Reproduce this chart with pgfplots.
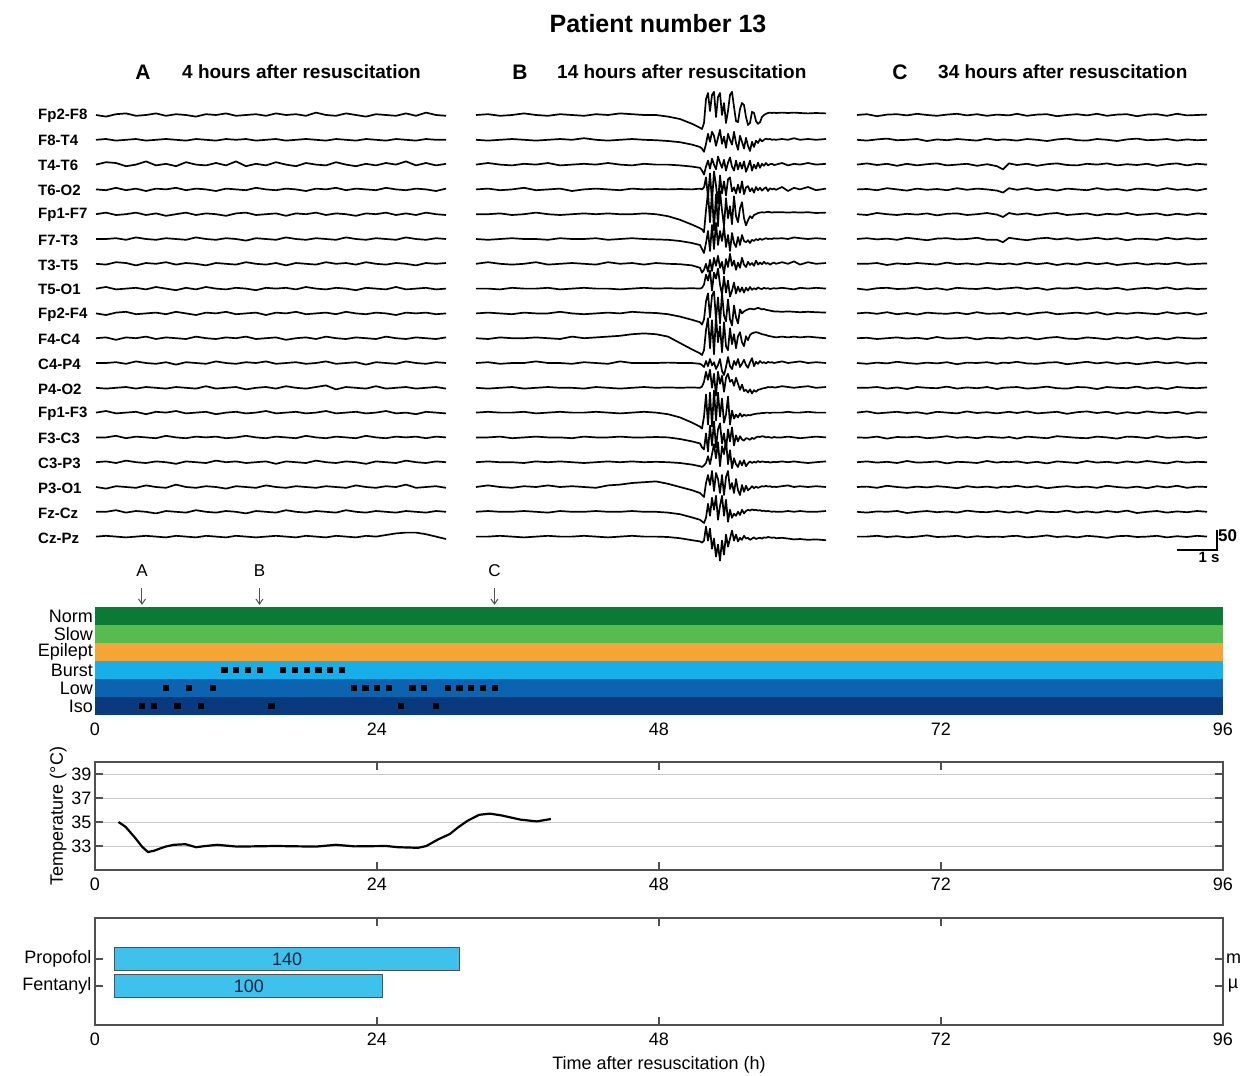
\documentclass[border=0pt]{standalone}
\usepackage{fontspec}
\setmainfont{Liberation Sans}
\usepackage{pgfplots}
\pgfplotsset{compat=1.18}
\usepackage{pgfplotstable}
\usetikzlibrary{arrows.meta}

\definecolor{normc}{RGB}{12,122,55}
\definecolor{slowc}{RGB}{88,187,80}
\definecolor{epic}{RGB}{246,164,52}
\definecolor{burstc}{RGB}{24,174,234}
\definecolor{lowc}{RGB}{12,100,176}
\definecolor{isoc}{RGB}{10,58,126}
\definecolor{drugc}{RGB}{62,194,236}
\definecolor{axisc}{RGB}{80,80,80}
\definecolor{gridc}{RGB}{200,200,200}
\definecolor{numc}{RGB}{25,35,70}

% EEG, microvolts, 18 bipolar channels
\pgfplotstableread{
t c1 c2 c3 c4 c5 c6 c7 c8 c9 c10 c11 c12 c13 c14 c15 c16 c17 c18
0.00 0 0 0 0 0 0 0 0 0 0 0 0 0 0 0 0 0 0
0.25 -4 2 6 -2 4 0 -2 4 -4 2 0 -2 4 0 2 -4 0 2
0.50 2 -2 4 4 -2 2 4 -2 2 -4 2 0 -2 4 -2 2 4 0
0.75 4 0 -4 -2 0 -2 2 0 4 2 -2 2 0 -2 4 0 -2 -2
1.00 -2 2 0 2 4 4 -4 2 -2 0 4 -2 2 2 0 -2 2 0
1.25 0 -2 8 -4 -2 0 2 -2 0 4 0 2 -4 0 -2 4 0 2
1.50 4 0 -2 2 2 -2 0 4 2 -2 -2 0 2 -2 2 0 -4 0
1.75 -2 2 2 0 -4 2 4 0 -2 2 2 -2 0 4 0 -2 2 -2
2.00 2 0 -4 4 0 0 -2 -4 4 0 -4 2 4 0 -4 6 0 2
2.25 0 -2 6 -2 4 -2 2 2 0 -2 2 0 -2 -2 2 0 -2 0
2.50 -4 2 0 2 -2 4 0 -2 -4 4 0 -2 0 2 0 -2 4 -2
2.75 2 0 -2 0 2 0 -4 4 2 0 -2 4 2 0 -2 2 0 2
3.00 0 -2 4 -4 0 -2 2 0 0 -2 4 -2 -4 2 4 0 -2 0
3.25 4 2 -2 2 -4 2 0 -2 4 2 0 0 0 -2 0 -4 2 -2
3.50 -2 0 8 0 2 0 -2 2 -2 0 -2 2 2 0 2 2 0 2
3.75 0 2 -4 -2 4 -4 4 0 0 4 2 -4 -2 4 -2 0 -4 0
4.00 2 -2 2 4 -2 2 0 -4 2 -2 0 0 0 0 0 -2 2 -2
4.25 -2 0 -2 0 0 0 -2 2 -4 0 4 2 4 -2 2 4 0 0
4.50 4 2 6 -2 2 -2 2 0 2 2 -2 -2 -2 2 -4 0 -2 2
4.75 0 -2 0 2 -4 4 -4 2 0 -4 0 4 0 0 2 -2 4 0
5.00 2 0 -4 0 2 0 2 -2 4 0 2 0 2 -2 0 2 0 -2
5.25 -2 2 4 -4 0 -2 0 4 -2 2 -2 -2 -2 4 -2 0 -2 2
5.50 6 0 0 2 4 2 -2 0 0 -2 0 2 0 0 4 -2 2 0
5.75 0 -2 -2 0 -2 0 4 -2 2 4 4 6 4 -2 0 2 0 -2
6.00 -2 2 6 4 2 -2 0 2 -2 0 -2 -4 -2 2 -2 0 -2 2
6.25 4 0 0 -2 0 4 2 0 4 -2 0 2 0 0 2 -2 4 0
6.50 0 -2 -4 2 -4 0 -2 -4 0 2 2 0 2 -2 0 4 0 -2
6.75 -4 2 2 0 2 -2 4 2 -2 0 -4 -2 -2 4 -4 0 -2 2
7.00 2 0 -2 -2 0 2 0 0 2 -2 2 4 0 0 2 -2 2 0
7.25 0 -2 4 4 4 0 -2 -2 0 4 0 -2 4 -2 0 2 0 4
7.50 -2 2 0 0 -2 -2 2 4 -4 0 -2 0 -2 2 -2 0 -2 8
7.75 4 0 8 -2 2 4 0 -2 2 -2 4 2 0 0 4 6 2 10
8.00 -2 -2 -2 2 -2 0 -4 0 0 2 0 -2 -4 2 0 -2 0 10
8.25 6 2 4 0 4 -2 2 2 2 0 -2 0 2 -2 -2 0 -2 6
8.50 0 0 -2 -4 0 2 0 -2 -2 -2 2 2 0 2 2 2 2 0
8.75 -2 0 2 2 -2 0 2 0 0 2 0 -2 -2 0 0 -2 0 -6
}\eegA

\pgfplotstableread{
t c1 c2 c3 c4 c5 c6 c7 c8 c9 c10 c11 c12 c13 c14 c15 c16 c17 c18
0.0 0 0 0 0 0 0 0 0 0 0 0 0 0 0 0 0 0 0
0.3 2 -2 4 2 0 -2 4 0 2 -2 2 -2 2 0 2 4 2 0
0.6 -2 0 0 -2 2 0 0 -2 0 2 -2 0 0 2 0 0 0 2
0.9 0 2 -2 0 -2 2 -2 2 -2 0 0 2 0 -2 0 -2 0 0
1.2 4 0 2 4 0 0 0 0 2 0 0 -2 2 0 -2 2 2 -2
1.5 0 -2 0 -2 4 0 4 0 0 2 4 0 -2 2 2 0 0 0
1.8 -2 0 4 0 0 -2 -2 2 0 0 0 2 0 0 0 4 -2 2
2.1 2 2 -2 2 -2 2 0 -2 4 -2 0 0 2 0 2 0 2 0
2.4 0 0 0 -4 0 0 2 0 0 4 -2 0 0 -2 0 2 0 0
2.7 -2 4 2 0 2 0 0 2 -2 0 2 -2 0 2 -2 0 0 2
3.0 2 0 0 2 0 2 -2 0 0 2 0 2 2 0 0 -2 2 0
3.3 0 -2 4 0 2 -2 4 0 2 4 -2 0 0 0 2 4 0 -2
3.6 4 0 0 -2 0 0 0 -2 0 6 4 -2 -2 2 0 6 0 0
3.9 2 2 -2 2 0 2 2 0 4 10 0 0 0 0 2 10 2 2
4.2 0 0 2 0 2 0 -2 2 2 12 0 2 2 0 0 12 0 0
4.5 0 -1 0 1 0 -1 2 0 1 10 0 0 0 1 1 14 0 0
4.8 -4 -3 0 0 -5 -2 0 1 -2 4 1 1 -4 0 0 8 -2 -1
5.1 -10 -6 -2 1 -14 -5 -1 0 -8 -12 0 0 -12 -4 -2 0 -6 -4
5.4 -22 -12 -5 0 -26 -10 -4 1 -16 -28 0 1 -25 -10 -6 -8 -14 -9
5.60 -32 -18 -8 2 -35 -15 -10 0 -22 -38 -2 0 -35 -15 -10 -15 -20 -12
5.65 -35 -22 -15 0 -38 -25 -22 2 -28 -42 -5 3 -40 -25 -12 -20 -24 -15
5.70 -20 -30 -25 5 -45 -35 -15 10 -15 -30 -10 15 -10 -30 -8 -25 -28 -10
5.75 40 -10 -5 30 10 -10 0 35 30 20 5 40 45 10 -2 10 -15 25
5.80 55 15 10 -20 55 20 -20 20 50 50 -8 20 -30 -35 15 30 20 -10
5.85 10 -5 -10 40 -20 -30 10 45 -10 -25 10 45 50 30 -5 5 -10 20
5.90 50 20 15 -30 55 35 -18 -5 45 45 -6 0 -35 -20 20 40 35 -30
5.95 58 10 0 45 -40 -25 15 40 55 -40 2 35 55 40 45 -10 5 -5
6.00 -5 -15 -12 10 50 40 -5 25 -15 55 -15 -20 -20 -25 10 35 40 -50
6.05 45 5 20 -35 -30 -15 20 50 40 -10 -5 40 50 20 50 20 -20 -20
6.10 55 25 5 35 58 20 -10 10 -25 30 10 10 -10 35 -10 -15 15 -60
6.15 0 -10 -8 -10 10 -5 5 -15 50 -35 -20 30 35 -15 40 30 40 -10
6.20 30 8 12 20 -30 30 -25 30 -5 40 -30 -10 -25 10 20 -20 -10 -45
6.25 -20 -20 -15 -15 40 -20 12 -10 -20 -20 -10 25 -5 -30 55 25 30 5
6.30 10 15 5 25 -10 10 -8 20 35 -30 15 35 40 20 -5 40 -25 -25
6.35 50 0 18 30 20 -30 25 -20 -15 25 -8 15 -30 -10 30 -5 5 -5
6.40 58 -12 -5 -5 -25 15 -5 -5 -30 -15 -15 20 5 25 -15 10 -15 15
6.45 20 20 -15 5 45 -10 8 15 20 10 5 5 -15 -20 10 -15 -5 -10
6.50 -15 -8 10 -10 -5 -20 -15 -12 -10 -25 -5 25 -5 5 -5 20 -10 5
6.55 -18 -25 -12 12 -20 5 3 5 -25 5 10 10 -12 -10 -12 -8 0 -12
6.60 15 10 5 -8 15 -15 -10 -8 10 15 -10 -5 -2 3 3 -20 -8 -3
6.65 30 -5 -10 20 30 10 15 3 0 -10 -2 8 -10 -5 -8 5 5 -8
6.70 25 -22 8 -12 -10 -5 -2 -10 5 -20 8 -8 -5 -8 5 -12 -4 2
6.75 -5 5 -18 5 -28 -8 -8 2 8 5 -5 -5 -8 -2 -10 3 2 -5
6.80 -25 -15 -5 8 -15 -3 5 -5 10 -5 -12 -12 -6 -3 -3 -8 5 -3
6.85 -20 -28 10 -5 -5 -10 -3 4 12 8 2 -4 -7 -6 2 -4 3 -8
6.90 8 -5 -15 3 -10 -2 2 -3 11 12 12 -14 -5 -1 -2 2 6 -5
6.95 5 -18 0 -8 -2 -5 -5 1 10 14 -8 -6 -4 -4 1 -3 4 -2
7.00 -15 -2 -10 6 0 0 8 -2 12 15 3 -10 -3 0 -1 1 5 -6
7.05 -22 -8 5 -2 3 -3 -2 3 14 14 -2 -5 -2 2 3 -2 3 -4
7.10 -18 2 -8 4 4 1 3 0 12 12 5 -4 -2 1 0 0 4 -3
7.15 -5 -4 2 -3 5 -2 -1 -1 10 10 0 -2 -1 3 2 2 2 -5
7.20 0 0 -3 2 4 0 5 2 11 9 2 -1 -1 2 1 1 3 -2
7.25 3 3 4 5 5 2 0 0 9 8 -1 0 0 0 0 3 1 -3
7.30 5 1 -2 -4 6 0 2 1 8 6 3 2 0 1 1 1 2 -1
7.35 6 2 1 3 5 1 -2 -1 7 5 1 1 -1 0 -1 2 1 -2
7.40 5 0 2 0 4 0 1 0 6 4 2 2 0 -1 0 0 0 -3
7.45 6 1 -1 2 5 2 3 1 5 3 0 1 0 1 1 1 1 -2
7.50 5 0 0 -1 5 1 0 0 5 2 1 1 0 0 0 0 0 -4
7.65 6 2 4 6 5 2 4 2 4 4 4 4 0 0 2 2 0 -3
7.80 5 0 -2 -4 4 0 0 0 5 2 0 2 2 2 0 4 2 -5
7.95 6 4 2 4 5 4 6 -2 4 4 2 0 0 0 2 0 0 -7
8.10 5 0 0 0 4 2 -2 2 3 2 4 2 0 -2 0 2 2 -6
8.30 4 2 4 6 5 0 4 0 4 4 0 4 2 0 -2 0 0 -8
8.50 5 0 0 -2 3 2 0 2 3 2 2 0 0 2 0 2 0 -7
8.75 4 2 2 2 4 0 2 0 2 0 0 2 0 0 2 0 2 -9
}\eegB

\pgfplotstableread{
t c1 c2 c3 c4 c5 c6 c7 c8 c9 c10 c11 c12 c13 c14 c15 c16 c17 c18
0.00 0 0 0 0 0 0 0 0 0 0 0 0 0 0 0 0 0 0
0.25 2 -2 3 1 -2 2 0 -3 2 1 -2 0 3 -1 2 1 -2 0
0.50 -3 1 -1 -2 3 -1 2 1 -1 -2 1 2 -2 2 -1 -2 1 2
0.75 1 3 2 3 0 1 -3 2 3 0 -1 -2 0 -3 1 3 0 -1
1.00 2 -1 -3 0 -2 -2 1 -1 -2 2 3 1 2 1 -2 0 2 1
1.25 -1 0 2 -3 1 3 -1 0 1 -1 0 -3 -1 0 3 -2 -3 -2
1.50 3 2 -2 2 -1 0 2 3 -3 1 -2 2 1 2 -1 1 0 0
1.75 0 -3 1 -1 2 -3 0 -2 2 -2 1 0 -3 -2 0 -1 2 3
2.00 -2 1 3 1 -3 1 -2 1 0 3 -1 -1 2 0 2 2 -1 -1
2.25 1 -1 -2 -2 1 2 3 -3 -1 -1 2 3 0 3 -3 0 1 0
2.50 3 2 0 3 2 -1 -1 2 2 0 -3 -2 -2 -1 1 -3 -2 2
2.75 -1 0 2 -1 -2 0 1 0 -2 2 1 1 3 1 0 2 3 -2
3.00 2 -2 -3 2 0 3 -2 -1 3 -3 0 -1 -1 -2 -2 -1 0 1
3.25 -2 3 1 0 3 -2 2 2 -1 1 2 2 1 2 3 1 -1 -1
3.50 1 -1 -4 -3 -1 -2 0 -2 0 0 -2 -3 -2 0 -1 -2 2 0
3.65 0 1 -12 -8 -7 -8 -1 0 1 -1 1 0 0 -1 1 1 0 -1
3.80 -1 0 3 3 3 3 1 1 -2 2 0 1 2 1 0 0 -2 1
4.00 3 -2 -1 -1 -1 0 -2 3 2 -1 3 2 -1 -3 2 3 1 2
4.25 -2 2 2 3 2 -3 3 -1 -3 2 -1 -2 3 2 -2 -1 -3 -2
4.50 1 0 -3 -2 -3 1 -1 2 1 -3 -2 0 -2 0 1 2 2 0
4.75 2 -3 1 1 1 3 2 -3 3 1 1 3 0 -2 -3 -3 0 3
5.00 -3 1 3 -3 3 -1 -3 1 -2 3 2 -1 2 3 2 0 -1 -1
5.25 0 3 -1 2 -2 2 1 0 0 -1 -3 -2 -3 1 0 2 3 1
5.50 2 -1 -2 0 0 -2 -2 3 2 -2 0 2 1 -1 -2 -1 -2 -2
5.75 -1 -2 2 -2 2 0 3 -2 -1 2 3 1 3 -2 3 1 1 2
6.00 3 2 0 3 -3 3 -1 1 3 0 -1 -3 -1 2 -1 -2 -2 0
6.25 -2 0 3 -1 1 -1 2 -1 -3 -3 2 2 2 0 1 3 2 -3
6.50 1 -3 -2 1 -1 2 -3 2 1 2 -2 0 -3 -3 -2 0 -1 1
6.75 2 1 1 -3 3 -3 0 -3 -1 -1 1 -1 1 2 2 -2 3 2
7.00 -3 3 -1 2 -2 1 2 0 2 3 -3 3 -2 1 -1 1 -3 -1
7.25 1 -1 2 0 0 0 -2 2 0 -2 0 -2 3 -2 3 -3 0 0
7.50 2 0 -3 -2 2 -2 1 -1 -2 1 3 1 0 3 0 2 2 2
7.75 -2 2 1 3 -3 3 -1 3 3 -3 -1 -3 -1 -1 -3 -1 -2 -2
8.00 3 -2 3 -1 1 -1 3 -2 -1 2 2 2 2 0 2 3 1 1
8.25 -1 1 -2 1 -2 2 -2 1 2 0 -2 0 -3 2 -1 -2 -1 -1
8.50 0 -1 2 -3 2 -1 0 -1 -3 -1 1 -1 1 -2 1 1 2 2
8.75 1 0 0 2 0 1 1 0 1 1 0 1 0 1 0 0 0 0
}\eegC

\pgfplotsset{
  eeg/.style={scale only axis, width=350pt, height=475pt,
    xmin=0, xmax=8.75, ymin=-1112.5, ymax=75, hide axis, clip=false},
  trace/.style={black, line width=1.7pt, line join=round},
  lower/.style={scale only axis, width=1128pt, xmin=0, xmax=96,
    xtick={0,24,48,72,96}, clip=false,
    /pgf/number format/assume math mode=true,
    tick label style={font=\fontsize{18}{18}\selectfont},
    xticklabel style={yshift=-4pt},
    label style={font=\fontsize{18}{18}\selectfont},
    axis line style={axisc, line width=1.2pt},
    tick style={axisc, line width=1.2pt},
    tick align=inside, major tick length=8pt},
}
\newcommand{\bft}[1]{\bfseries\fontsize{#1}{#1}\selectfont}

\begin{document}
\begin{tikzpicture}
\useasboundingbox (0,0) rectangle (1242pt,-1076pt);

\node[font=\bft{25}] at (658pt,-24pt) {Patient number 13};
\node[font=\bft{21}] at (143pt,-72pt) {A};
\node[font=\bft{19}, anchor=west, inner sep=0pt] at (182pt,-72pt) {4 hours after resuscitation};
\node[font=\bft{21}] at (520pt,-72pt) {B};
\node[font=\bft{19}, anchor=west, inner sep=0pt] at (557pt,-72pt) {14 hours after resuscitation};
\node[font=\bft{21}] at (900pt,-72pt) {C};
\node[font=\bft{19}, anchor=west, inner sep=0pt] at (938pt,-72pt) {34 hours after resuscitation};

\foreach \n [count=\i from 0] in {Fp2-F8,F8-T4,T4-T6,T6-O2,Fp1-F7,F7-T3,T3-T5,T5-O1,Fp2-F4,F4-C4,C4-P4,P4-O2,Fp1-F3,F3-C3,C3-P3,P3-O1,Fz-Cz,Cz-Pz}
  \node[font=\bft{15}, anchor=west, inner sep=0pt] at (38pt,{-116pt-24.82pt*\i}) {\n};

\begin{axis}[eeg, at={(96pt,-85pt)}, anchor=north west]
\pgfplotsinvokeforeach{1,...,18}{
  \addplot[trace] table[x=t, y expr=\thisrow{c#1}-62*(#1-1)] {\eegA};
}
\end{axis}

\begin{axis}[eeg, at={(476pt,-85pt)}, anchor=north west]
\pgfplotsinvokeforeach{1,...,18}{
  \addplot[trace] table[x=t, y expr=\thisrow{c#1}-62*(#1-1)] {\eegB};
}
\end{axis}

\begin{axis}[eeg, at={(857pt,-85pt)}, anchor=north west]
\pgfplotsinvokeforeach{1,...,18}{
  \addplot[trace] table[x=t, y expr=\thisrow{c#1}-62*(#1-1)] {\eegC};
}
% scale bar: 1 s, 50 uV
\draw[black, line width=1.8pt] (axis cs:8,-1087.5) -- (axis cs:9,-1087.5) -- (axis cs:9,-1037.5);
\node[font=\bft{17}, anchor=west, inner sep=1pt] at (axis cs:9,-1052) {50};
\node[font=\bft{15}, anchor=north, inner sep=1pt] at (axis cs:8.8,-1089) {1 s};
\end{axis}

% EEG state per hour
\begin{axis}[lower, at={(95pt,-715pt)}, anchor=south west, height=108pt,
  ymin=0.5, ymax=6.5, ytick={1,...,6},
  yticklabels={Iso,Low,Burst,Epilept,Slow,Norm},
  axis line style={draw=none}, major tick length=0pt,
  yticklabel style={inner xsep=2pt}]
\addplot[draw=none, fill=isoc] coordinates {(0,0.5) (96,0.5) (96,1.5) (0,1.5)} -- cycle;
\addplot[draw=none, fill=lowc] coordinates {(0,1.5) (96,1.5) (96,2.5) (0,2.5)} -- cycle;
\addplot[draw=none, fill=burstc] coordinates {(0,2.5) (96,2.5) (96,3.5) (0,3.5)} -- cycle;
\addplot[draw=none, fill=epic] coordinates {(0,3.5) (96,3.5) (96,4.5) (0,4.5)} -- cycle;
\addplot[draw=none, fill=slowc] coordinates {(0,4.5) (96,4.5) (96,5.5) (0,5.5)} -- cycle;
\addplot[draw=none, fill=normc] coordinates {(0,5.5) (96,5.5) (96,6.5) (0,6.5)} -- cycle;
\addplot[only marks, mark=square*, mark size=2.6pt, black] coordinates {
  (4,1) (5,1) (7,1) (9,1) (15,1) (26,1) (29,1)
  (6,2) (8,2) (10,2) (22,2) (23,2) (24,2) (25,2) (27,2) (28,2)
  (30,2) (31,2) (32,2) (33,2) (34,2)
  (11,3) (12,3) (13,3) (14,3) (16,3) (17,3) (18,3) (19,3) (20,3) (21,3)};
\draw[-{Straight Barb[length=5pt,width=7pt]}, line width=1pt, axisc] (axis cs:4,7.55) -- (axis cs:4,6.62);
\draw[-{Straight Barb[length=5pt,width=7pt]}, line width=1pt, axisc] (axis cs:14,7.55) -- (axis cs:14,6.62);
\draw[-{Straight Barb[length=5pt,width=7pt]}, line width=1pt, axisc] (axis cs:34,7.55) -- (axis cs:34,6.62);
\node[font=\fontsize{17}{17}\selectfont] at (axis cs:4,8.5) {A};
\node[font=\fontsize{17}{17}\selectfont] at (axis cs:14,8.5) {B};
\node[font=\fontsize{17}{17}\selectfont] at (axis cs:34,8.5) {C};
\end{axis}

% temperature
\begin{axis}[lower, at={(95pt,-870pt)}, anchor=south west, height=108pt,
  ymin=31, ymax=40, ytick={33,35,37,39},
  ymajorgrids, grid style={gridc, line width=1pt},
  ylabel={Temperature (°C)}, ylabel style={yshift=-2pt}]
\addplot[black, line width=2.2pt, line join=round] coordinates {
  (2.0,35.0) (2.6,34.6) (3.4,33.7) (4.0,32.95) (4.5,32.5) (5.0,32.6)
  (6.0,32.95) (6.7,33.1) (7.7,33.15) (8.6,32.9) (9.4,33.0) (10.4,33.1)
  (12.1,32.95) (15.4,33.0) (18.8,32.95) (20.5,33.1) (22.1,32.97) (24.8,33.0)
  (25.8,32.9) (27.5,32.85) (28.2,33.0) (29.2,33.55) (30.2,34.0) (30.9,34.55)
  (31.7,35.1) (32.7,35.6) (33.6,35.7) (34.6,35.55) (36.2,35.2) (37.6,35.05)
  (38.8,35.25)};
\end{axis}

% sedation: infusion from 1.7 h; propofol to 31 h, fentanyl to 24.5 h
\begin{axis}[lower, at={(95pt,-1025pt)}, anchor=south west, height=107pt,
  ymin=-0.444, ymax=3.52, ytick={1,2}, yticklabels={Fentanyl,Propofol},
  xlabel={Time after resuscitation (h)}, xlabel style={yshift=-4pt}]
\addplot[fill=drugc, draw=axisc, line width=1pt] coordinates {(1.7,1.59) (31,1.59) (31,2.41) (1.7,2.41)} -- cycle;
\addplot[fill=drugc, draw=axisc, line width=1pt] coordinates {(1.7,0.59) (24.5,0.59) (24.5,1.41) (1.7,1.41)} -- cycle;
\node[font=\fontsize{18}{18}\selectfont, text=numc] at (axis cs:16.35,2) {140};
\node[font=\fontsize{18}{18}\selectfont, text=numc] at (axis cs:13.1,1) {100};
\node[font=\fontsize{18}{18}\selectfont, anchor=west, inner sep=0pt] at (axis cs:96.25,2) {m};
\node[font=\fontsize{18}{18}\selectfont, anchor=west, inner sep=0pt] at (axis cs:96.4,1) {µ};
\end{axis}
\end{tikzpicture}
\end{document}
